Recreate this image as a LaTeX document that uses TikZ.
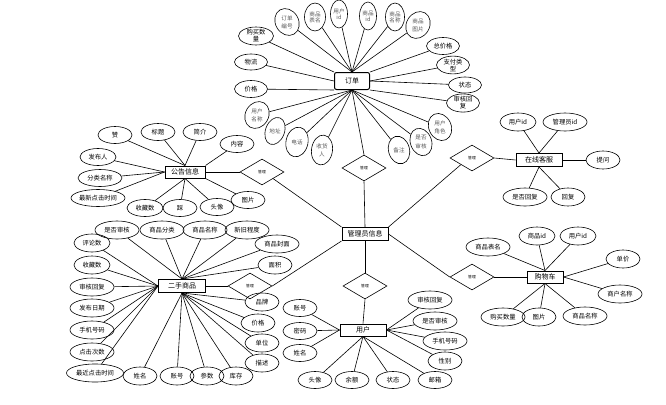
\documentclass[tikz,border=0pt]{standalone}
\usepackage{fontspec}
\newfontfamily\cjk{Noto Sans CJK SC}
\usetikzlibrary{shapes.geometric}
\newcommand{\uprt}[2]{\rotatebox{#1}{\shortstack{#2}}}
\begin{document}
\begin{tikzpicture}[x=1pt,y=-1pt,
 attr/.style={draw, ellipse, minimum width=34pt, minimum height=18pt, inner sep=0pt, align=center, font=\cjk\fontsize{6.3}{7}\selectfont, line width=0.6pt},
 wide/.style={minimum width=44pt},
 xwide/.style={minimum width=57pt},
 vattr/.style={draw, ellipse, minimum width=19pt, minimum height=28pt, inner sep=0pt, align=center, font=\cjk\fontsize{5.6}{6.2}\selectfont, text=black!65, line width=0.6pt},
 ent/.style={draw, rectangle, line width=1pt, minimum width=46pt, minimum height=13pt, inner sep=1pt, font=\cjk\fontsize{7}{8}\selectfont},
 rel/.style={draw, diamond, minimum width=44pt, minimum height=26pt, inner sep=0pt, font=\cjk\fontsize{3.8}{4}\selectfont, line width=0.6pt},
 link/.style={line width=0.6pt}]
\useasboundingbox (0,0) rectangle (666,404);
\fill[white] (0,0) rectangle (666,404);

% ---------- entities ----------
\node[ent, rounded corners=2pt, minimum width=35pt, minimum height=17pt] (ord) at (352,81) {订单};
\node[ent] (adm) at (365,234) {管理员信息};
\node[ent, minimum width=40pt, minimum height=12pt] (ann) at (185,172) {公告信息};
\node[ent, minimum width=47pt] (gds) at (182,286) {二手商品};
\node[ent, minimum height=12pt] (usr) at (363,330) {用户};
\node[ent] (svc) at (539,160) {在线客服};
\node[ent, minimum width=36pt, minimum height=12pt] (cart) at (545,277) {购物车};

% ---------- relations ----------
\node[rel] (d1) at (364,168) {管理};
\node[rel] (d2) at (365,286) {管理};
\node[rel] (d3) at (262,172) {管理};
\node[rel] (d4) at (250,286) {管理};
\node[rel] (d5) at (472,158) {管理};
\node[rel] (d6) at (472,277) {管理};

\draw[link] (ord.south) -- (d1.north);
\draw[link] (d1.south) -- (adm.north);
\draw[link] (adm.south) -- (d2.north);
\draw[link] (d2.south) -- (usr.north);
\draw[link] (d3.south east) -- (adm.north west);
\draw[link] (d4.east) -- (adm.south west);
\draw[link] (adm.north east) -- (d5.south west);
\draw[link] (adm.east) -- (d6.west);
\draw[link] (ann.east) -- (d3.west);
\draw[link] (gds.east) -- (d4.west);
\draw[link] (d5.east) -- (svc.west);
\draw[link] (d6.east) -- (cart.west);

% ---------- 订单 attributes ----------
\node[vattr, rotate=30] (o1) at (287,22) {\uprt{-30}{订单\\编号}};
\node[vattr, minimum width=21pt] (o2) at (315,17) {商品\\表名};
\node[vattr, minimum width=17pt] (o3) at (339,14) {用户\\id};
\node[vattr, minimum width=17pt] (o4) at (368,16) {商品\\id};
\node[vattr] (o5) at (395,17) {商品\\名称};
\node[vattr, rotate=-30] (o6) at (418,25) {\uprt{30}{商品\\图片}};
\node[attr, minimum width=35pt] (o7) at (256,36) {购买数\\量};
\node[attr, minimum width=33pt, minimum height=16pt] (o8) at (251,62) {物流};
\node[attr, minimum width=33pt, minimum height=17pt] (o9) at (251,89) {价格};
\node[attr, minimum width=33pt, minimum height=17pt] (o10) at (443,46) {总价格};
\node[attr, minimum width=33pt, minimum height=17pt] (o11) at (453,65) {支付类\\型};
\node[attr, minimum width=33pt, minimum height=16pt] (o12) at (465,85) {状态};
\node[attr, minimum width=33pt, minimum height=17pt] (o13) at (463,103) {审核回\\复};
\node[vattr, rotate=-30] (o14) at (257,115) {\uprt{30}{用户\\名称}};
\node[vattr, rotate=-20] (o15) at (275,131) {\uprt{20}{地址}};
\node[vattr, rotate=-12, minimum width=22pt, minimum height=30pt] (o16) at (297,142) {\uprt{12}{电话}};
\node[vattr, rotate=-8, minimum width=21pt, minimum height=30pt] (o17) at (322,150) {\uprt{8}{收货\\人}};
\node[vattr, rotate=15, minimum width=21pt, minimum height=28pt] (o18) at (399,150) {\uprt{-15}{备注}};
\node[vattr, rotate=20] (o19) at (421,142) {\uprt{-20}{是否\\审核}};
\node[vattr, rotate=25, minimum width=17pt] (o20) at (440,127) {\uprt{-25}{用户\\角色}};

\foreach \n in {o1,o2,o3,o4,o5,o6} \draw[link] (\n) -- (ord.north);
\draw[link] (o7) -- (ord.north west);
\draw[link] (o8) -- (ord.west);
\draw[link] (o9) -- (ord.south west);
\draw[link] (o10) -- (ord.north east);
\draw[link] (o11) -- (ord.east);
\draw[link] (o12) -- (ord.east);
\draw[link] (o13) -- (ord.south east);
\foreach \n in {o14,o15,o16,o17,o18,o19,o20} \draw[link] (\n) -- (ord.south);

% ---------- 公告信息 attributes ----------
\node[attr, minimum height=17pt] (a1) at (115,135) {赞};
\node[attr, minimum height=17pt] (a2) at (158,132) {标题};
\node[attr, minimum height=17pt] (a3) at (200,132) {简介};
\node[attr, minimum height=17pt] (a4) at (237,144) {内容};
\node[attr, minimum width=36pt, minimum height=17pt] (a5) at (98,157) {发布人};
\node[attr, wide, minimum height=17pt] (a6) at (100,178) {分类名称};
\node[attr, minimum width=54pt, minimum height=17pt] (a7) at (98,198) {最新点击时间};
\node[attr, minimum width=36pt, minimum height=17pt] (a8) at (145,208) {收藏数};
\node[attr, minimum height=17pt] (a9) at (180,208) {踩};
\node[attr, minimum height=17pt] (a10) at (217,207) {头像};
\node[attr, minimum height=17pt] (a11) at (248,200) {图片};
\foreach \n in {a1,a2,a3} \draw[link] (\n) -- (ann.north);
\draw[link] (a4) -- (ann.north east);
\foreach \n in {a5,a6,a7} \draw[link] (\n) -- (ann.west);
\foreach \n in {a8,a9,a10} \draw[link] (\n) -- (ann.south);
\draw[link] (a11) -- (ann.south east);

% ---------- 二手商品 attributes ----------
\node[attr, wide] (g1) at (117,230) {是否审核};
\node[attr, wide] (g2) at (162,230) {商品分类};
\node[attr, wide] (g3) at (205,230) {商品名称};
\node[attr, wide] (g4) at (247,230) {新旧程度};
\node[attr, wide] (g5) at (277,244) {商品封面};
\node[attr] (g6) at (275,265) {面积};
\node[attr, minimum width=36pt] (g7) at (92,243) {评论数};
\node[attr, minimum width=36pt] (g8) at (92,265) {收藏数};
\node[attr, wide] (g9) at (92,287) {审核回复};
\node[attr, wide] (g10) at (92,308) {发布日期};
\node[attr, wide] (g11) at (92,330) {手机号码};
\node[attr, wide] (g12) at (92,352) {点击次数};
\node[attr, xwide] (g13) at (95,373) {最近点击时间};
\node[attr] (g14) at (262,302) {品牌};
\node[attr] (g15) at (258,323) {价格};
\node[attr] (g16) at (262,343) {单位};
\node[attr] (g17) at (262,363) {描述};
\node[attr] (g18) at (236,376) {库存};
\node[attr] (g19) at (207,376) {参数};
\node[attr] (g20) at (177,376) {账号};
\node[attr] (g21) at (140,376) {姓名};
\foreach \n in {g1,g2,g3,g4,g5,g6} \draw[link] (\n) -- (gds.north);
\foreach \n in {g7,g8,g9,g10,g11,g12,g13} \draw[link] (\n) -- (gds.west);
\foreach \n in {g14,g15,g16,g17,g18,g19,g20,g21} \draw[link] (\n) -- (gds.south);

% ---------- 用户 attributes ----------
\node[attr, minimum height=17pt] (u1) at (300,308) {账号};
\node[attr, minimum height=17pt] (u2) at (300,331) {密码};
\node[attr, minimum height=17pt] (u3) at (300,353) {姓名};
\node[attr, minimum height=17pt] (u4) at (315,380) {头像};
\node[attr, minimum height=17pt] (u5) at (352,380) {余额};
\node[attr, minimum height=17pt] (u6) at (393,380) {状态};
\node[attr, minimum height=17pt] (u7) at (435,380) {邮箱};
\node[attr, wide] (u8) at (430,300) {审核回复};
\node[attr, wide] (u9) at (435,321) {是否审核};
\node[attr, wide] (u10) at (445,341) {手机号码};
\node[attr] (u11) at (445,361) {性别};
\foreach \n in {u1,u2,u3} \draw[link] (\n) -- (usr.west);
\foreach \n in {u4,u5,u6,u7} \draw[link] (\n) -- (usr.south);
\foreach \n in {u8,u9,u10,u11} \draw[link] (\n) -- (usr.east);

% ---------- 在线客服 attributes ----------
\node[attr, minimum width=36pt] (s1) at (518,122) {用户id};
\node[attr, wide] (s2) at (565,122) {管理员id};
\node[attr] (s3) at (603,160) {提问};
\node[attr, wide] (s4) at (525,197) {是否回复};
\node[attr] (s5) at (568,197) {回复};
\foreach \n in {s1,s2} \draw[link] (\n) -- (svc.north);
\draw[link] (s3) -- (svc.east);
\foreach \n in {s4,s5} \draw[link] (\n) -- (svc.south);

% ---------- 购物车 attributes ----------
\node[attr, wide] (c1) at (488,247) {商品表名};
\node[attr, minimum width=36pt] (c2) at (537,236) {商品id};
\node[attr, minimum width=36pt] (c3) at (578,236) {用户id};
\node[attr] (c4) at (623,259) {单价};
\node[attr, wide] (c5) at (620,294) {商户名称};
\node[attr, wide] (c6) at (503,317) {购买数量};
\node[attr] (c7) at (539,317) {图片};
\node[attr, wide] (c8) at (585,316) {商品名称};
\foreach \n in {c1,c2,c3} \draw[link] (\n) -- (cart.north);
\foreach \n in {c4,c5} \draw[link] (\n) -- (cart.east);
\foreach \n in {c6,c7,c8} \draw[link] (\n) -- (cart.south);
\end{tikzpicture}
\end{document}
